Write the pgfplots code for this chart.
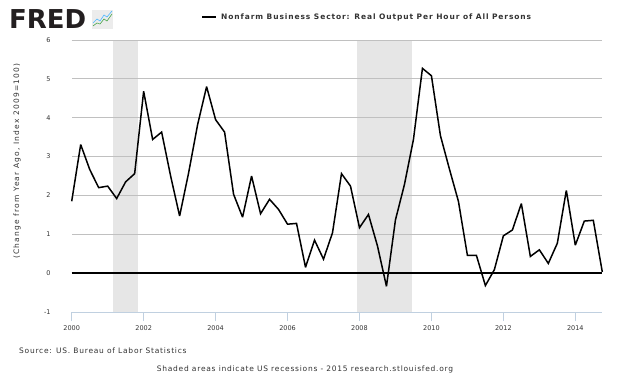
\documentclass[border=0pt]{standalone}
\usepackage{pgfplots}
\pgfplotsset{compat=1.18}
\usepackage{fontspec}
\setmainfont{DejaVu Sans}
\newfontfamily\spaced[LetterSpace=10]{DejaVu Sans}
\newfontfamily\spacedt[LetterSpace=12]{DejaVu Sans}
\newfontfamily\spacedb[LetterSpace=16]{DejaVu Sans}
\definecolor{axblue}{HTML}{C0D0E0}
\definecolor{gridc}{HTML}{C0C0C0}
\definecolor{recess}{HTML}{E6E6E6}
\definecolor{fredtxt}{HTML}{231F20}
\definecolor{txt}{HTML}{333333}
\begin{document}
\begin{tikzpicture}[x=1pt,y=1pt]
\path[fill=white] (0,0) rectangle (630,378);
\begin{axis}[
  at={(71.7pt,66pt)}, anchor=south west,
  scale only axis, width=530.6pt, height=272pt,
  xmin=2000, xmax=2014.75, ymin=-1, ymax=6,
  axis x line*=bottom, axis y line=none,
  x axis line style={draw=axblue, line width=0.8pt},
  xtick={2000,2002,2004,2006,2008,2010,2012,2014},
  xticklabel style={font=\fontsize{6.5}{7}\selectfont, text=txt, yshift=-1pt},
  /pgf/number format/assume math mode=true,
  /pgf/number format/1000 sep={},
  x tick style={draw=axblue, line width=0.8pt},
  tick align=outside, major tick length=9pt,
  clip=false,
]
\addplot[fill=recess, draw=none] coordinates {(2001.15,-1)(2001.15,6)(2001.84,6)(2001.84,-1)} -- cycle;
\addplot[fill=recess, draw=none] coordinates {(2007.93,-1)(2007.93,6)(2009.46,6)(2009.46,-1)} -- cycle;
\addplot[gridc, line width=0.8pt] coordinates {(2000,1)(2014.75,1)};
\addplot[gridc, line width=0.8pt] coordinates {(2000,2)(2014.75,2)};
\addplot[gridc, line width=0.8pt] coordinates {(2000,3)(2014.75,3)};
\addplot[gridc, line width=0.8pt] coordinates {(2000,4)(2014.75,4)};
\addplot[gridc, line width=0.8pt] coordinates {(2000,5)(2014.75,5)};
\addplot[gridc, line width=0.8pt] coordinates {(2000,6)(2014.75,6)};
\addplot[white, line width=0.9pt] coordinates {(2000,-0.97)(2000,5.97)};
\addplot[black, line width=2pt] coordinates {(2000,0)(2014.75,0)};
\foreach \v in {-1,0,1,2,3,4,5,6} {
  \edef\tmp{\noexpand\node[anchor=east, text=txt, font=\noexpand\fontsize{6.5}{7}\noexpand\selectfont, inner sep=0pt, xshift=-21pt] at (axis cs:2000,\v) {\v};}
  \tmp
}
\addplot[black, line width=1.5pt, line join=miter, miter limit=3] table {
2000.00 1.85
2000.25 3.31
2000.50 2.67
2000.75 2.20
2001.00 2.24
2001.25 1.92
2001.50 2.35
2001.75 2.56
2002.00 4.68
2002.25 3.44
2002.50 3.63
2002.75 2.50
2003.00 1.47
2003.25 2.58
2003.50 3.82
2003.75 4.80
2004.00 3.95
2004.25 3.63
2004.50 2.03
2004.75 1.44
2005.00 2.50
2005.25 1.53
2005.50 1.90
2005.75 1.64
2006.00 1.26
2006.25 1.28
2006.50 0.15
2006.75 0.85
2007.00 0.36
2007.25 1.04
2007.50 2.56
2007.75 2.24
2008.00 1.17
2008.25 1.51
2008.50 0.70
2008.75 -0.34
2009.00 1.37
2009.25 2.28
2009.50 3.44
2009.75 5.27
2010.00 5.08
2010.25 3.54
2010.50 2.68
2010.75 1.85
2011.00 0.46
2011.25 0.46
2011.50 -0.32
2011.75 0.09
2012.00 0.96
2012.25 1.11
2012.50 1.79
2012.75 0.43
2013.00 0.60
2013.25 0.25
2013.50 0.77
2013.75 2.13
2014.00 0.72
2014.25 1.34
2014.50 1.36
2014.75 0.03
};
\end{axis}
% y label
\node[rotate=90, text=txt, font=\spacedb\fontsize{7.5}{8}\selectfont] at (17,378-161) {(Change from Year Ago, Index 2009=100)};
% legend / title
\draw[black, line width=2.2pt] (202,378-17) -- (216,378-17);
\node[anchor=west, text=txt, font=\spacedt\bfseries\fontsize{7.5}{8}\selectfont, inner sep=0] at (221,378-17) {Nonfarm Business Sector: Real Output Per Hour of All Persons};
% FRED logo
\node[anchor=west, text=fredtxt, font=\bfseries\fontsize{26}{27}\selectfont, inner sep=0] at (9,378-19.5) {FRED};
\fill[gray!15] (92,378-29) rectangle (113,378-10);
\draw[green!50!black!70, line width=0.6pt] (93,378-26) -- (97,378-23) -- (100,378-24) -- (104,378-19) -- (107,378-21) -- (112,378-14);
\draw[blue!40!cyan!70, line width=0.6pt] (93,378-23) -- (97,378-19) -- (100,378-21) -- (104,378-15) -- (107,378-17) -- (112,378-11);
% source and footer
\node[anchor=west, text=txt, font=\spaced\fontsize{7.5}{8}\selectfont, inner sep=0] at (19,378-351) {Source: US. Bureau of Labor Statistics};
\node[text=txt, font=\spaced\fontsize{7.5}{8}\selectfont, inner sep=0] at (305,378-369) {Shaded areas indicate US recessions - 2015 research.stlouisfed.org};
\end{tikzpicture}
\end{document}
